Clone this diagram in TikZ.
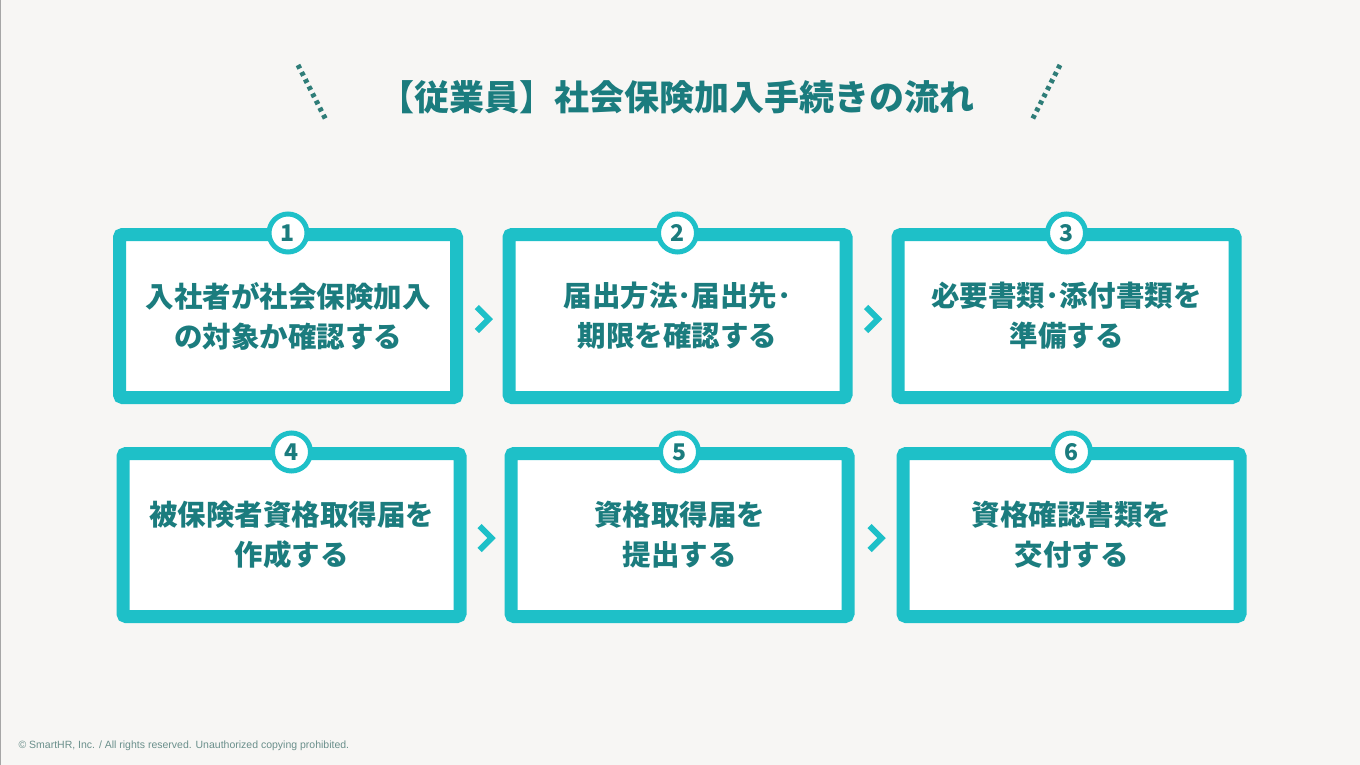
\documentclass[tikz,border=0pt]{standalone}
\usepackage{fontspec}
\setmainfont{Liberation Sans}
\newfontfamily\jp{Noto Sans CJK JP}
\usetikzlibrary{calc}

\definecolor{bg}{HTML}{F7F6F4}
\definecolor{frame}{HTML}{1EC0C8}
\definecolor{ink}{HTML}{1B7C7E}
\definecolor{dots}{HTML}{2F7D78}
\definecolor{foot}{HTML}{6A8F8B}

\tikzset{
  stepbox/.style={draw=frame, fill=white, line width=13pt, rounded corners=3pt,
    minimum width=337pt, minimum height=163pt, inner sep=0pt},
  steptext/.style={text=ink, font=\jp\bfseries\fontsize{28.5}{40}\selectfont, align=center},
  num/.style={circle, draw=frame, fill=white, line width=5pt, minimum size=38pt,
    inner sep=0pt, text=ink, font=\jp\bfseries\fontsize{23}{23}\selectfont},
  chev/.style={draw=frame, line width=6pt},
  dotline/.style={draw=dots, line width=5pt, dash pattern=on 4pt off 4pt}
}

\begin{document}
\begin{tikzpicture}[x=1pt, y=-1pt]
\fill[bg] (0,0) rectangle (1360,765);
\useasboundingbox (0,0) rectangle (1360,765);
\draw[black!35, line width=1pt] (0.5,0) -- (0.5,765);

\node[text=ink, font=\jp\bfseries\fontsize{35}{35}\selectfont] (title) at (677,97) {【従業員】社会保険加入手続きの流れ};
\draw[dotline] (298,65) -- (327,122);
\draw[dotline] (1060,65) -- (1031,122);

\node[stepbox] (b1) at (288,316) {};
\node[stepbox] (b2) at (677.5,316) {};
\node[stepbox] (b3) at (1066.5,316) {};
\node[stepbox] (b4) at (291.5,535) {};
\node[stepbox] (b5) at (679.5,535) {};
\node[stepbox] (b6) at (1071.5,535) {};

\node[steptext] (t1) at (b1) {入社者が社会保険加入\\の対象か確認する};
\node[steptext] (t2) at (b2) {届出方法･届出先･\\期限を確認する};
\node[steptext] (t3) at (b3) {必要書類･添付書類を\\準備する};
\node[steptext] (t4) at (b4) {被保険者資格取得届を\\作成する};
\node[steptext] (t5) at (b5) {資格取得届を\\提出する};
\node[steptext] (t6) at (b6) {資格確認書類を\\交付する};

\foreach \i in {1,...,6}
  \node[num] (n\i) at ($(b\i.north)+(0,5)$) {\i};

\foreach \a/\b in {1/2,2/3,4/5,5/6} {
  \coordinate (c\a) at ($(b\a.east)!.5!(b\b.west)+(0,3)$);
  \draw[chev] ($(c\a)+(-6,-12)$) -- ++(12,12) -- ++(-12,12);
}

\node[anchor=west, text=foot, font=\fontsize{10.5}{10.5}\selectfont] (copy) at (15,746) {© SmartHR, Inc. / All rights reserved. Unauthorized copying prohibited.};
\end{tikzpicture}
\end{document}
